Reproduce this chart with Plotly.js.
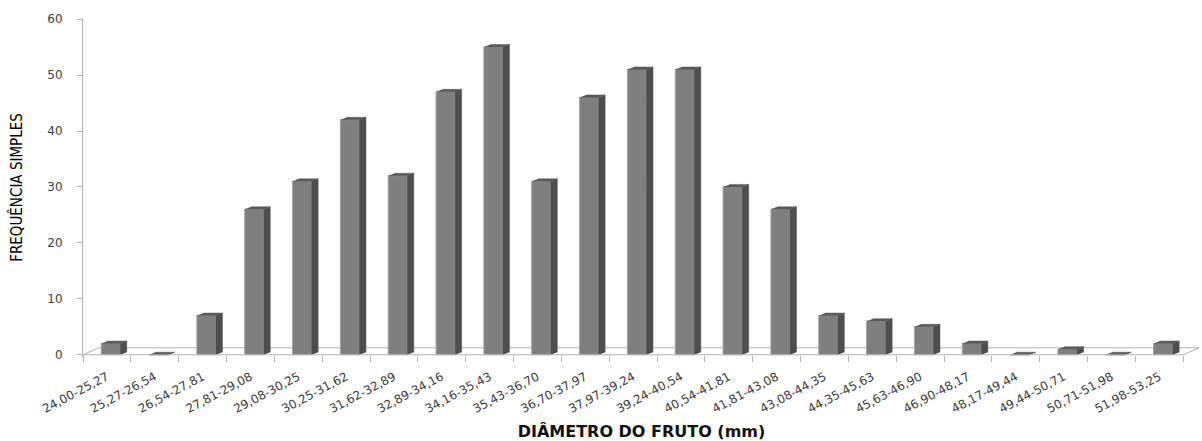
<!DOCTYPE html>
<html>
<head>
<meta charset="utf-8">
<script src="https://cdn.plot.ly/plotly-3.0.1.min.js"></script>
<style>
  html, body { margin: 0; padding: 0; background: #ffffff; }
  #chart { width: 1202px; height: 441px; }
</style>
</head>
<body>
<div id="chart"></div>
<script>
// Fruit diameter classes (mm) and simple frequency of each class
const classes = [
  "24,00-25,27", "25,27-26,54", "26,54-27,81", "27,81-29,08", "29,08-30,25",
  "30,25-31,62", "31,62-32,89", "32,89-34,16", "34,16-35,43", "35,43-36,70",
  "36,70-37,97", "37,97-39,24", "39,24-40,54", "40,54-41,81", "41,81-43,08",
  "43,08-44,35", "44,35-45,63", "45,63-46,90", "46,90-48,17", "48,17-49,44",
  "49,44-50,71", "50,71-51,98", "51,98-53,25"
];
const frequencies = [2, 0, 7, 26, 31, 42, 32, 47, 55, 31, 46, 51, 51, 30, 26, 7, 6, 5, 2, 0, 1, 0, 2];
const yTickValues = [0, 10, 20, 30, 40, 50, 60];

// Pseudo 3-D column styling, in axis units
const FACE_W = 0.4;      // width of the front face
const FACE_OFF = -0.12;  // shift of the front face from the class centre
const DEPTH_X = 0.135;   // column depth, horizontal part
const DEPTH_Y = 0.45;    // column depth, vertical part
const FLOOR_X = 0.33;    // floor depth, horizontal part
const FLOOR_Y = 1.25;    // floor depth, vertical part
const X_MIN = -0.5, X_MAX = 22.85;
const Y_MIN = -0.4, Y_MAX = 60.2;

const positions = classes.map((_, i) => i);
const boundaries = positions.map(p => p - 0.5).concat([positions.length - 0.5]);
const first = boundaries[0];
const last = boundaries[boundaries.length - 1];

// Side and top faces of every column, as closed polygons separated by gaps
const sideX = [], sideY = [], topX = [], topY = [];
positions.forEach((p, i) => {
  const v = frequencies[i];
  const x0 = p + FACE_OFF;
  const x1 = x0 + FACE_W;
  sideX.push(x1, x1, x1 + DEPTH_X, x1 + DEPTH_X, null);
  sideY.push(0, v, v + DEPTH_Y, DEPTH_Y, null);
  topX.push(x0, x1, x1 + DEPTH_X, x0 + DEPTH_X, null);
  topY.push(v, v, v + DEPTH_Y, v + DEPTH_Y, null);
});

const floorColor = '#b4b4b4';

const traces = [
  { // front faces
    type: 'bar',
    x: positions, y: frequencies,
    width: FACE_W, offset: FACE_OFF,
    marker: { color: '#7f7f7f', line: { color: '#a3a3a3', width: 1 } },
    hoverinfo: 'skip', showlegend: false
  },
  { // side faces
    type: 'scatter', mode: 'lines', fill: 'toself',
    x: sideX, y: sideY,
    fillcolor: '#4e4e4e', line: { color: '#4e4e4e', width: 0.5 },
    hoverinfo: 'skip', showlegend: false
  },
  { // top faces
    type: 'scatter', mode: 'lines', fill: 'toself',
    x: topX, y: topY,
    fillcolor: '#5a5a5a', line: { color: '#5a5a5a', width: 0.5 },
    hoverinfo: 'skip', showlegend: false
  },
  { // front edge of the floor
    type: 'scatter', mode: 'lines',
    x: [first, last], y: [0, 0],
    line: { color: floorColor, width: 1 },
    hoverinfo: 'skip', showlegend: false
  }
];

// Back edge of the floor, kept beneath the columns
const floorPath = 'M ' + first + ',0' +
  ' L ' + (first + FLOOR_X) + ',' + FLOOR_Y +
  ' L ' + (last + FLOOR_X) + ',' + FLOOR_Y +
  ' L ' + last + ',0';

const tickFont = { family: 'DejaVu Sans, Verdana, sans-serif', size: 12, color: '#404040' };

const layout = {
  width: 1202, height: 441,
  margin: { l: 83, r: 2, t: 18, b: 84 },
  paper_bgcolor: '#ffffff', plot_bgcolor: '#ffffff',
  hovermode: false,
  showlegend: false,
  shapes: [{
    type: 'path', xref: 'x', yref: 'y', layer: 'below',
    path: floorPath,
    line: { color: floorColor, width: 1 }
  }],
  xaxis: {
    range: [X_MIN, X_MAX],
    anchor: 'free',
    position: (0 - Y_MIN) / (Y_MAX - Y_MIN),
    tickmode: 'array', tickvals: positions, ticktext: classes,
    ticks: '', tickangle: -28,
    tickfont: tickFont,
    ticklabelstandoff: 12,
    minor: { tickmode: 'array', tickvals: boundaries, ticks: 'outside', ticklen: 6, tickwidth: 1, tickcolor: floorColor, showgrid: false },
    showline: false, showgrid: false, zeroline: false,
    title: {
      text: 'DIÂMETRO DO FRUTO (mm)',
      font: { family: 'DejaVu Sans, Verdana, sans-serif', size: 16, color: '#111111', weight: 'bold' },
      standoff: 12
    }
  },
  yaxis: {
    range: [Y_MIN, Y_MAX],
    tickmode: 'array', tickvals: yTickValues,
    ticks: 'outside', ticklen: 5, tickwidth: 1, tickcolor: floorColor,
    tickfont: tickFont,
    ticklabelstandoff: 12,
    showline: true, linecolor: floorColor, linewidth: 1,
    showgrid: false, zeroline: false,
    title: {
      text: 'FREQUÊNCIA SIMPLES',
      font: { family: 'Liberation Sans Narrow, DejaVu Sans Condensed, Arial Narrow, sans-serif', size: 15, color: '#000000' },
      standoff: 21
    }
  }
};

Plotly.newPlot('chart', traces, layout, { staticPlot: true, displayModeBar: false });
</script>
</body>
</html>
